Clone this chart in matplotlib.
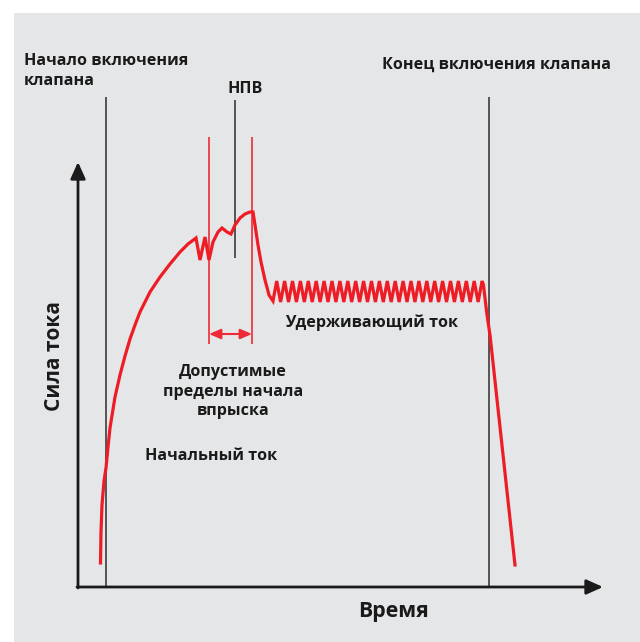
import matplotlib.pyplot as plt
from matplotlib.patches import Rectangle

plt.rcParams['font.family'] = ['Open Sans', 'DejaVu Sans']

# time / current in arbitrary units (origin at axis crossing)
rise_t = [22.5, 23, 24, 26, 28, 30, 32, 37, 42, 47, 52, 57, 62, 72, 82, 92, 102, 110, 118]
rise_i = [24, 55, 82, 106, 119, 140, 159, 190, 212, 231, 248, 262, 275, 295, 310, 323, 335, 343, 349]

bump_t = [122, 127, 131, 135, 140, 144, 149, 153, 157, 162, 167, 172, 175]
bump_i = [327, 350, 327, 345, 355, 359, 355, 353, 362, 369, 373, 375, 375]

drop_t = [177, 180, 183, 187, 191, 195]
drop_i = [362, 342, 325, 307, 292, 286]

hold_t = [198.7, 202.6, 206.6, 210.5, 214.5, 218.4, 222.4, 226.3, 230.3, 234.2,
          238.2, 242.1, 246.1, 250.0, 254.0, 257.9, 261.9, 265.8, 269.8, 273.7,
          277.7, 281.6, 285.6, 289.5, 293.5, 297.4, 301.4, 305.3, 309.3, 313.2,
          317.2, 321.1, 325.1, 329.0, 333.0, 336.9, 340.9, 344.8, 348.8, 352.7,
          356.7, 360.6, 364.6, 368.5, 372.5, 376.4, 380.4, 384.3, 388.3, 392.2,
          396.2, 400.1, 404.1]
hold_i = [306, 285, 306, 285, 306, 285, 306, 285, 306, 285,
          306, 285, 306, 285, 306, 285, 306, 285, 306, 285,
          306, 285, 306, 285, 306, 285, 306, 285, 306, 285,
          306, 285, 306, 285, 306, 285, 306, 285, 306, 285,
          306, 285, 306, 285, 306, 285, 306, 285, 306, 285,
          306, 285, 306]

end_t = [405.5, 407, 409, 412, 437]
end_i = [302, 289, 272, 252, 22]

curve_t = rise_t + bump_t + drop_t + hold_t + end_t
curve_i = rise_i + bump_i + drop_i + hold_i + end_i

t_start, t_end = 28, 411        # valve on / off
t_npv = 157                      # НПВ
t_win = (131, 174)               # injection window
line_top = 490
npv_span = (329, 487)
win_span = (243, 450)
arrow_i = 253

fig = plt.figure(figsize=(6.4, 6.42), dpi=100)
fig.patches.append(Rectangle((14 / 640, 0), 1, 629 / 642, transform=fig.transFigure,
                             facecolor='#e5e6e8', edgecolor='none', zorder=-10))
ax = fig.add_axes([0, 0, 1, 1])
ax.set_xlim(-78, 562)
ax.set_ylim(-55, 587)
ax.axis('off')

# axes with arrows
ax.annotate('', xy=(525, 0), xytext=(-1, 0),
            arrowprops=dict(arrowstyle='-|>,head_length=1.0,head_width=0.45', lw=2.0, color='#1a1a1a', shrinkA=0, shrinkB=0))
ax.annotate('', xy=(0, 425), xytext=(0, -1),
            arrowprops=dict(arrowstyle='-|>,head_length=1.0,head_width=0.45', lw=2.0, color='#1a1a1a', shrinkA=0, shrinkB=0))

# vertical markers
ax.vlines([t_start, t_end], 0, line_top, color='#3c3c3c', lw=1.2)
ax.vlines(t_npv, *npv_span, color='#3c3c3c', lw=1.2)
ax.vlines(t_win, *win_span, color='#ee2a35', lw=1.2)
ax.annotate('', xy=(t_win[0], arrow_i), xytext=(t_win[1], arrow_i),
            arrowprops=dict(arrowstyle='<|-|>,head_length=0.7,head_width=0.3', lw=1.5, color='#ee2a35', shrinkA=0, shrinkB=0))

ax.plot(curve_t, curve_i, color='#ee1c25', lw=2.3, solid_joinstyle='miter', zorder=5)

fs = 11.6
tk = dict(fontsize=fs, fontweight='bold', color='#1a1a1a', va='baseline')
ax.text(-54, 522, 'Начало включения', ha='left', **tk)
ax.text(-54, 502, 'клапана', ha='left', **tk)
ax.text(167, 494, 'НПВ', ha='center', **tk)
ax.text(304, 518, 'Конец включения клапана', ha='left', **tk)
ax.text(207, 260, 'Удерживающий ток', ha='left', **tk)
ax.text(155, 211, 'Допустимые', ha='center', **tk)
ax.text(155, 191, 'пределы начала', ha='center', **tk)
ax.text(155, 172, 'впрыска', ha='center', **tk)
ax.text(67, 127, 'Начальный ток', ha='left', **tk)
ax.text(280, -30, 'Время', fontsize=15.3, fontweight='bold', color='#1a1a1a', ha='left', va='baseline')
ax.text(-23, 231, 'Сила тока', fontsize=15, fontweight='bold', color='#1a1a1a',
        rotation=90, ha='center', va='center')

fig.savefig('out.png', dpi=100)
